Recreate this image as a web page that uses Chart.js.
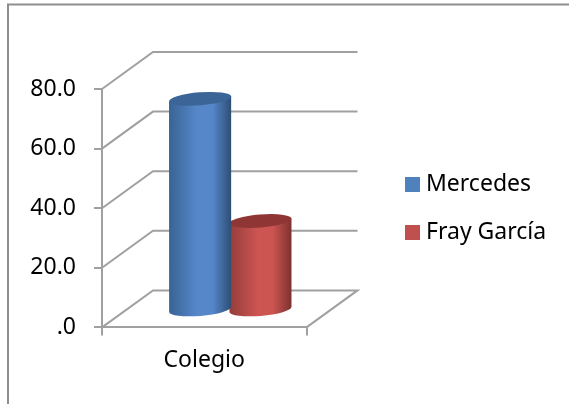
<!DOCTYPE html>
<html><head><meta charset="utf-8">
<style>html,body{margin:0;padding:0;background:#fff}#w{width:569px;height:404px;position:relative}</style>
<script src="https://cdn.jsdelivr.net/npm/chart.js@4/dist/chart.umd.min.js"></script>
</head><body><div id="w"><canvas id="c"></canvas></div>
<script>
const categories = ['Colegio'];
const seriesNames = ['Mercedes', 'Fray García'];
const mercedes = [71];
const frayGarcia = [30];
const yTicks = [0, 20, 40, 60, 80];
const swatches = ['#4F81BD', '#C0504D'];
const shades = [
  {edge:'#3A6396', mid:'#5587C9', dark:'#2E4E76', top:'#3B6596'},
  {edge:'#953D3B', mid:'#CC5451', dark:'#7C3230', top:'#8F3634'}
];
const grey = '#A0A0A0', frame = '#8E8E8E', FONT = '"Noto Sans"';
const depthX = 51, depthY = 37, barShiftX = 26, barShiftY = 17;

function swatchCanvas(color){
  const k = document.createElement('canvas'); k.width = 15; k.height = 15;
  const g = k.getContext('2d'); g.fillStyle = color; g.fillRect(0,0,15,15); return k;
}
const placeLegend = {
  id:'placeLegend',
  afterLayout(chart){
    const l = chart.legend;
    l.left = 385.5; l.right = 569; l.top = 0; l.bottom = 417;
  }
};
const walls = {
  id:'walls',
  beforeDraw(chart){
    const {ctx, scales:{x, y}} = chart, L = x.left, R = x.right;
    ctx.save();
    ctx.strokeStyle = frame; ctx.lineWidth = 2;
    ctx.beginPath(); ctx.moveTo(8,404); ctx.lineTo(8,4.5); ctx.lineTo(569,4.5); ctx.stroke();
    ctx.strokeStyle = grey;
    yTicks.forEach(v => {
      const p = y.getPixelForValue(v);
      ctx.beginPath(); ctx.moveTo(L,p); ctx.lineTo(L+depthX,p-depthY); ctx.lineTo(R+depthX,p-depthY);
      if (v === 0) ctx.lineTo(R,p);
      ctx.stroke();
    });
    ctx.restore();
  }
};
const cylinders = {
  id:'cylinders',
  beforeDatasetDraw(chart, args){
    const {ctx} = chart, s = shades[args.index], b = args.meta.data[0];
    const cx = b.x + barShiftX, w = b.width, rx = w/2, ry = 6.5, tilt = -0.08;
    const top = b.y - barShiftY, base = b.base - barShiftY;
    const g = ctx.createLinearGradient(cx-rx,0,cx+rx,0);
    g.addColorStop(0,s.edge); g.addColorStop(.45,s.mid); g.addColorStop(.7,s.mid); g.addColorStop(1,s.dark);
    const dy = rx*Math.sin(tilt);
    ctx.save();
    ctx.fillStyle = g;
    ctx.beginPath();
    ctx.moveTo(cx-rx, top-dy);
    ctx.lineTo(cx+rx, top+dy);
    ctx.lineTo(cx+rx, base+dy);
    ctx.ellipse(cx, base, rx, ry, tilt, 0, Math.PI);
    ctx.closePath(); ctx.fill();
    ctx.fillStyle = s.top;
    ctx.beginPath(); ctx.ellipse(cx, top, rx, ry, tilt, 0, Math.PI*2); ctx.fill();
    ctx.restore();
    return false;
  }
};
new Chart(document.getElementById('c'), {
  type:'bar',
  data:{labels:categories, datasets:[
    {label:seriesNames[0], data:mercedes, backgroundColor:swatches[0], categoryPercentage:.59, barPercentage:1.03},
    {label:seriesNames[1], data:frayGarcia, backgroundColor:swatches[1], categoryPercentage:.59, barPercentage:1.03}
  ]},
  options:{
    responsive:true, maintainAspectRatio:false, animation:false,
    layout:{padding:{left:26, top:89, right:169, bottom:19}},
    plugins:{
      title:{display:false}, tooltip:{enabled:false},
      legend:{position:'right', labels:{
        color:'#000', font:{family:FONT,size:23}, padding:25, usePointStyle:true, pointStyleWidth:4, boxHeight:15,
        generateLabels(chart){
          return Chart.defaults.plugins.legend.labels.generateLabels(chart).map(it => ({...it, pointStyle:swatchCanvas(it.fillStyle)}));
        }
      }}
    },
    scales:{
      x:{grid:{drawOnChartArea:false,color:grey,lineWidth:2,tickLength:8},border:{color:grey,width:2},
         ticks:{color:'#000',font:{family:FONT,size:23},padding:11}},
      y:{min:0,max:80,grid:{drawOnChartArea:false,color:grey,lineWidth:2,tickLength:8},border:{color:grey,width:2},
         afterBuildTicks(a){a.ticks = yTicks.map(v=>({value:v}));},
         afterFit(a){a.width = 76;},
         ticks:{color:'#000',font:{family:FONT,size:23},padding:18,callback:v => v===0 ? '.0' : v.toFixed(1)}}
    }
  },
  plugins:[placeLegend, walls, cylinders]
});
</script></body></html>
